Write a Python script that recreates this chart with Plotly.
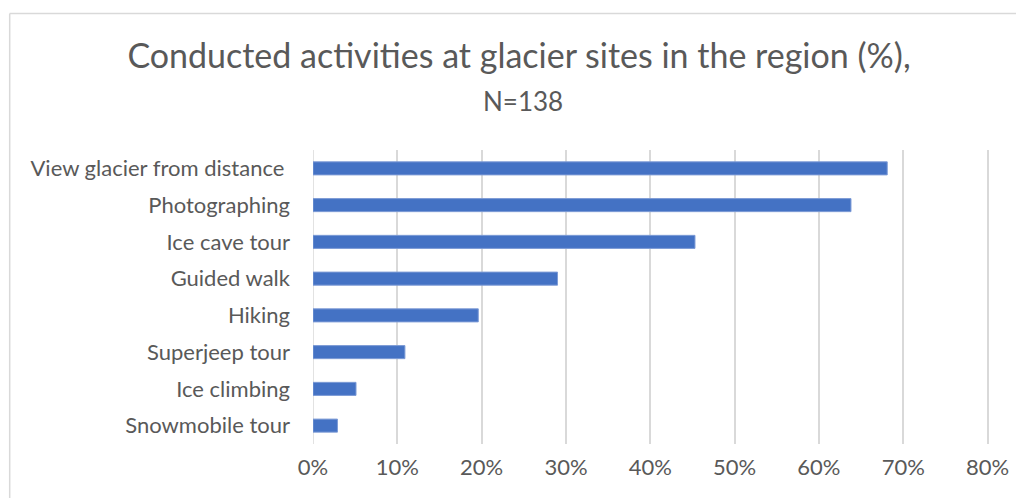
import plotly.graph_objects as go

categories = ["View glacier from distance ", "Photographing", "Ice cave tour", "Guided walk",
              "Hiking", "Superjeep tour", "Ice climbing", "Snowmobile tour"]
values = [68.1, 63.8, 45.3, 29.0, 19.6, 10.9, 5.1, 2.9]
tick_vals = [0, 10, 20, 30, 40, 50, 60, 70, 80]
tick_text = ["0%", "10%", "20%", "30%", "40%", "50%", "60%", "70%", "80%"]
title_main = "Conducted activities at glacier sites in the region (%),"
title_sub = "N=138"

FONT = "Lato"
OFF = 8  # page body margin
W, H = 1024 - OFF, 498 - OFF
XMAX = 81
ml = 313 - OFF
pw = 675 * XMAX / 80
mr = W - ml - pw
mt, mb = 150 - OFF, 54

fig = go.Figure(go.Bar(
    x=values, y=categories, orientation="h",
    marker=dict(color="#4472c4", line=dict(color="#7d9bd6", width=1)),
    hoverinfo="x+y",
))

ph = H - mt - mb
def px_x(p):
    return (p - OFF - ml) / pw
def px_y(p):
    return (H - mb - (p - OFF)) / ph

fig.update_layout(
    width=W, height=H,
    margin=dict(l=ml, r=mr, t=mt, b=mb),
    paper_bgcolor="white", plot_bgcolor="white",
    bargap=0.645,
    showlegend=False,
    font=dict(family=FONT, color="#595959"),
    title=dict(text=title_main, x=(519 - OFF) / W, xanchor="center",
               y=1 - (56 - OFF) / H, yanchor="middle",
               xref="container", yref="container",
               font=dict(family=FONT, size=34, color="#595959")),
    xaxis=dict(range=[0, XMAX], tickvals=tick_vals, ticktext=tick_text,
               showgrid=True, gridcolor="#d9d9d9", gridwidth=1.5,
               zeroline=False, showline=False, ticks="",
               tickfont=dict(family=FONT, size=22, color="#595959"),
               ticklabelstandoff=8, fixedrange=True),
    yaxis=dict(autorange="reversed", showgrid=False, zeroline=False, showline=False, ticks="",
               tickfont=dict(family=FONT, size=22, color="#595959"),
               ticklabelstandoff=22, fixedrange=True),
    annotations=[dict(text=title_sub, xref="paper", yref="paper",
                      x=px_x(523), y=px_y(101), xanchor="center", yanchor="middle",
                      showarrow=False, font=dict(family=FONT, size=26, color="#595959"))],
    shapes=[
        dict(type="line", xref="paper", yref="paper", x0=px_x(9.5), x1=px_x(1040),
             y0=px_y(13.5), y1=px_y(13.5), line=dict(color="#d9d9d9", width=1.5)),
        dict(type="line", xref="paper", yref="paper", x0=px_x(9.5), x1=px_x(9.5),
             y0=px_y(13.5), y1=px_y(520), line=dict(color="#d9d9d9", width=1.5)),
        dict(type="line", xref="x", yref="paper", x0=0, x1=0, y0=0, y1=1,
             line=dict(color="#d9d9d9", width=1.5), layer="below"),
    ],
)

fig.write_html("out.html")
